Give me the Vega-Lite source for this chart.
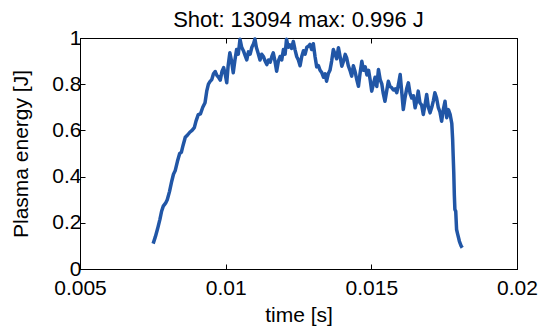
{
"$schema": "https://vega.github.io/schema/vega-lite/v6.json",
"width": 437,
"height": 231,
"autosize": "none",
"padding": {"left": 80, "top": 38, "right": 24, "bottom": 58},
"background": "white",
"config": {
  "font": "Liberation Sans",
  "view": {"stroke": "black", "strokeWidth": 1},
  "axis": {"grid": false, "domainColor": "black", "tickColor": "black", "labelColor": "black", "titleColor": "black", "labelFont": "Liberation Sans", "titleFont": "Liberation Sans", "labelFontSize": 21, "titleFontSize": 21, "titleFontWeight": "normal", "tickSize": -5, "labelFlush": false, "labelOverlap": false}
},
"title": {"text": "Shot: 13094 max: 0.996 J", "fontSize": 22, "fontWeight": "normal", "font": "Liberation Sans", "color": "black", "offset": 6, "dy": 11},
"data": {"values": [
{"t":0.007511,"e":0.110},{"t":0.007588,"e":0.140},{"t":0.007665,"e":0.175},{"t":0.007743,"e":0.215},{"t":0.007801,"e":0.250},{"t":0.007859,"e":0.272},{"t":0.007937,"e":0.285},{"t":0.007995,"e":0.300},{"t":0.008072,"e":0.335},{"t":0.008149,"e":0.380},{"t":0.008208,"e":0.410},{"t":0.008266,"e":0.425},{"t":0.008343,"e":0.465},{"t":0.008421,"e":0.500},{"t":0.008479,"e":0.505},{"t":0.008537,"e":0.535},{"t":0.008614,"e":0.570},{"t":0.008692,"e":0.580},{"t":0.008769,"e":0.592},{"t":0.008846,"e":0.600},{"t":0.008924,"e":0.612},{"t":0.008982,"e":0.640},{"t":0.009059,"e":0.668},{"t":0.009137,"e":0.672},{"t":0.009214,"e":0.700},{"t":0.009292,"e":0.720},{"t":0.009350,"e":0.770},{"t":0.009408,"e":0.800},{"t":0.009466,"e":0.812},{"t":0.009524,"e":0.820},{"t":0.009582,"e":0.845},{"t":0.009640,"e":0.855},{"t":0.009698,"e":0.838},{"t":0.009756,"e":0.830},{"t":0.009814,"e":0.818},{"t":0.009873,"e":0.855},{"t":0.009931,"e":0.872},{"t":0.009989,"e":0.840},{"t":0.010037,"e":0.806},{"t":0.010085,"e":0.880},{"t":0.010144,"e":0.936},{"t":0.010202,"e":0.900},{"t":0.010260,"e":0.850},{"t":0.010318,"e":0.905},{"t":0.010376,"e":0.950},{"t":0.010434,"e":0.930},{"t":0.010492,"e":0.995},{"t":0.010550,"e":0.960},{"t":0.010608,"e":0.945},{"t":0.010666,"e":0.925},{"t":0.010724,"e":0.905},{"t":0.010782,"e":0.940},{"t":0.010841,"e":0.930},{"t":0.010899,"e":0.960},{"t":0.010957,"e":0.975},{"t":0.011005,"e":0.996},{"t":0.011053,"e":0.960},{"t":0.011112,"e":0.935},{"t":0.011179,"e":0.905},{"t":0.011237,"e":0.930},{"t":0.011295,"e":0.920},{"t":0.011354,"e":0.900},{"t":0.011412,"e":0.885},{"t":0.011470,"e":0.905},{"t":0.011528,"e":0.895},{"t":0.011586,"e":0.920},{"t":0.011634,"e":0.936},{"t":0.011692,"e":0.900},{"t":0.011750,"e":0.856},{"t":0.011809,"e":0.900},{"t":0.011867,"e":0.920},{"t":0.011925,"e":0.905},{"t":0.011983,"e":0.950},{"t":0.012041,"e":0.930},{"t":0.012089,"e":0.995},{"t":0.012147,"e":0.960},{"t":0.012205,"e":0.970},{"t":0.012263,"e":0.955},{"t":0.012322,"e":0.985},{"t":0.012380,"e":0.950},{"t":0.012438,"e":0.920},{"t":0.012496,"e":0.905},{"t":0.012554,"e":0.880},{"t":0.012612,"e":0.920},{"t":0.012670,"e":0.945},{"t":0.012728,"e":0.930},{"t":0.012786,"e":0.960},{"t":0.012844,"e":0.965},{"t":0.012893,"e":0.972},{"t":0.012951,"e":0.950},{"t":0.013009,"e":0.975},{"t":0.013067,"e":0.920},{"t":0.013125,"e":0.875},{"t":0.013183,"e":0.880},{"t":0.013241,"e":0.860},{"t":0.013299,"e":0.850},{"t":0.013357,"e":0.830},{"t":0.013415,"e":0.845},{"t":0.013464,"e":0.813},{"t":0.013522,"e":0.845},{"t":0.013580,"e":0.860},{"t":0.013638,"e":0.900},{"t":0.013696,"e":0.950},{"t":0.013754,"e":0.930},{"t":0.013812,"e":0.910},{"t":0.013870,"e":0.958},{"t":0.013928,"e":0.920},{"t":0.013987,"e":0.878},{"t":0.014045,"e":0.900},{"t":0.014103,"e":0.929},{"t":0.014151,"e":0.915},{"t":0.014209,"e":0.880},{"t":0.014267,"e":0.860},{"t":0.014325,"e":0.835},{"t":0.014383,"e":0.880},{"t":0.014441,"e":0.855},{"t":0.014500,"e":0.820},{"t":0.014558,"e":0.791},{"t":0.014616,"e":0.850},{"t":0.014674,"e":0.899},{"t":0.014732,"e":0.860},{"t":0.014790,"e":0.875},{"t":0.014848,"e":0.840},{"t":0.014906,"e":0.860},{"t":0.014964,"e":0.815},{"t":0.015013,"e":0.770},{"t":0.015071,"e":0.800},{"t":0.015129,"e":0.830},{"t":0.015187,"e":0.790},{"t":0.015245,"e":0.864},{"t":0.015303,"e":0.820},{"t":0.015361,"e":0.800},{"t":0.015409,"e":0.760},{"t":0.015468,"e":0.726},{"t":0.015526,"e":0.770},{"t":0.015584,"e":0.813},{"t":0.015642,"e":0.790},{"t":0.015700,"e":0.785},{"t":0.015758,"e":0.775},{"t":0.015816,"e":0.780},{"t":0.015874,"e":0.763},{"t":0.015932,"e":0.800},{"t":0.015990,"e":0.842},{"t":0.016048,"e":0.760},{"t":0.016097,"e":0.690},{"t":0.016155,"e":0.740},{"t":0.016213,"e":0.780},{"t":0.016271,"e":0.806},{"t":0.016329,"e":0.760},{"t":0.016387,"e":0.740},{"t":0.016445,"e":0.750},{"t":0.016503,"e":0.698},{"t":0.016561,"e":0.730},{"t":0.016610,"e":0.770},{"t":0.016668,"e":0.720},{"t":0.016726,"e":0.710},{"t":0.016784,"e":0.669},{"t":0.016842,"e":0.710},{"t":0.016900,"e":0.755},{"t":0.016958,"e":0.700},{"t":0.017016,"e":0.676},{"t":0.017074,"e":0.700},{"t":0.017133,"e":0.730},{"t":0.017181,"e":0.763},{"t":0.017239,"e":0.740},{"t":0.017297,"e":0.700},{"t":0.017355,"e":0.680},{"t":0.017413,"e":0.640},{"t":0.017471,"e":0.690},{"t":0.017529,"e":0.726},{"t":0.017587,"e":0.655},{"t":0.017646,"e":0.690},{"t":0.017704,"e":0.670},{"t":0.017762,"e":0.630},{"t":0.017791,"e":0.560},{"t":0.017810,"e":0.488},{"t":0.017829,"e":0.420},{"t":0.017849,"e":0.320},{"t":0.017868,"e":0.258},{"t":0.017897,"e":0.250},{"t":0.017926,"e":0.171},{"t":0.017965,"e":0.150},{"t":0.018023,"e":0.120},{"t":0.018081,"e":0.100},{"t":0.018120,"e":0.092}
]},
"layer": [
  {
    "mark": {"type": "line", "color": "#2156a6", "strokeWidth": 3.5, "strokeJoin": "round"},
    "encoding": {
      "x": {"field": "t", "type": "quantitative", "scale": {"domain": [0.005, 0.02], "nice": false, "zero": false}, "axis": {"title": "time [s]", "values": [0.005, 0.01, 0.015, 0.02], "format": "~g", "orient": "bottom", "labelPadding": 13, "titlePadding": 6}},
      "y": {"field": "e", "type": "quantitative", "scale": {"domain": [0, 1], "nice": false}, "axis": {"title": "Plasma energy [J]", "values": [0, 0.2, 0.4, 0.6, 0.8, 1], "format": "~g", "orient": "left", "labelPadding": 4, "titlePadding": 20}}
    }
  },
  {
    "mark": {"type": "line", "opacity": 0},
    "encoding": {
      "x": {"field": "t", "type": "quantitative", "scale": {"domain": [0.005, 0.02], "nice": false, "zero": false}, "axis": {"title": null, "labels": false, "values": [0.005, 0.01, 0.015, 0.02], "orient": "top"}},
      "y": {"field": "e", "type": "quantitative", "scale": {"domain": [0, 1], "nice": false}, "axis": {"title": null, "labels": false, "values": [0, 0.2, 0.4, 0.6, 0.8, 1], "orient": "right"}}
    }
  }
],
"resolve": {"axis": {"x": "independent", "y": "independent"}}
}
